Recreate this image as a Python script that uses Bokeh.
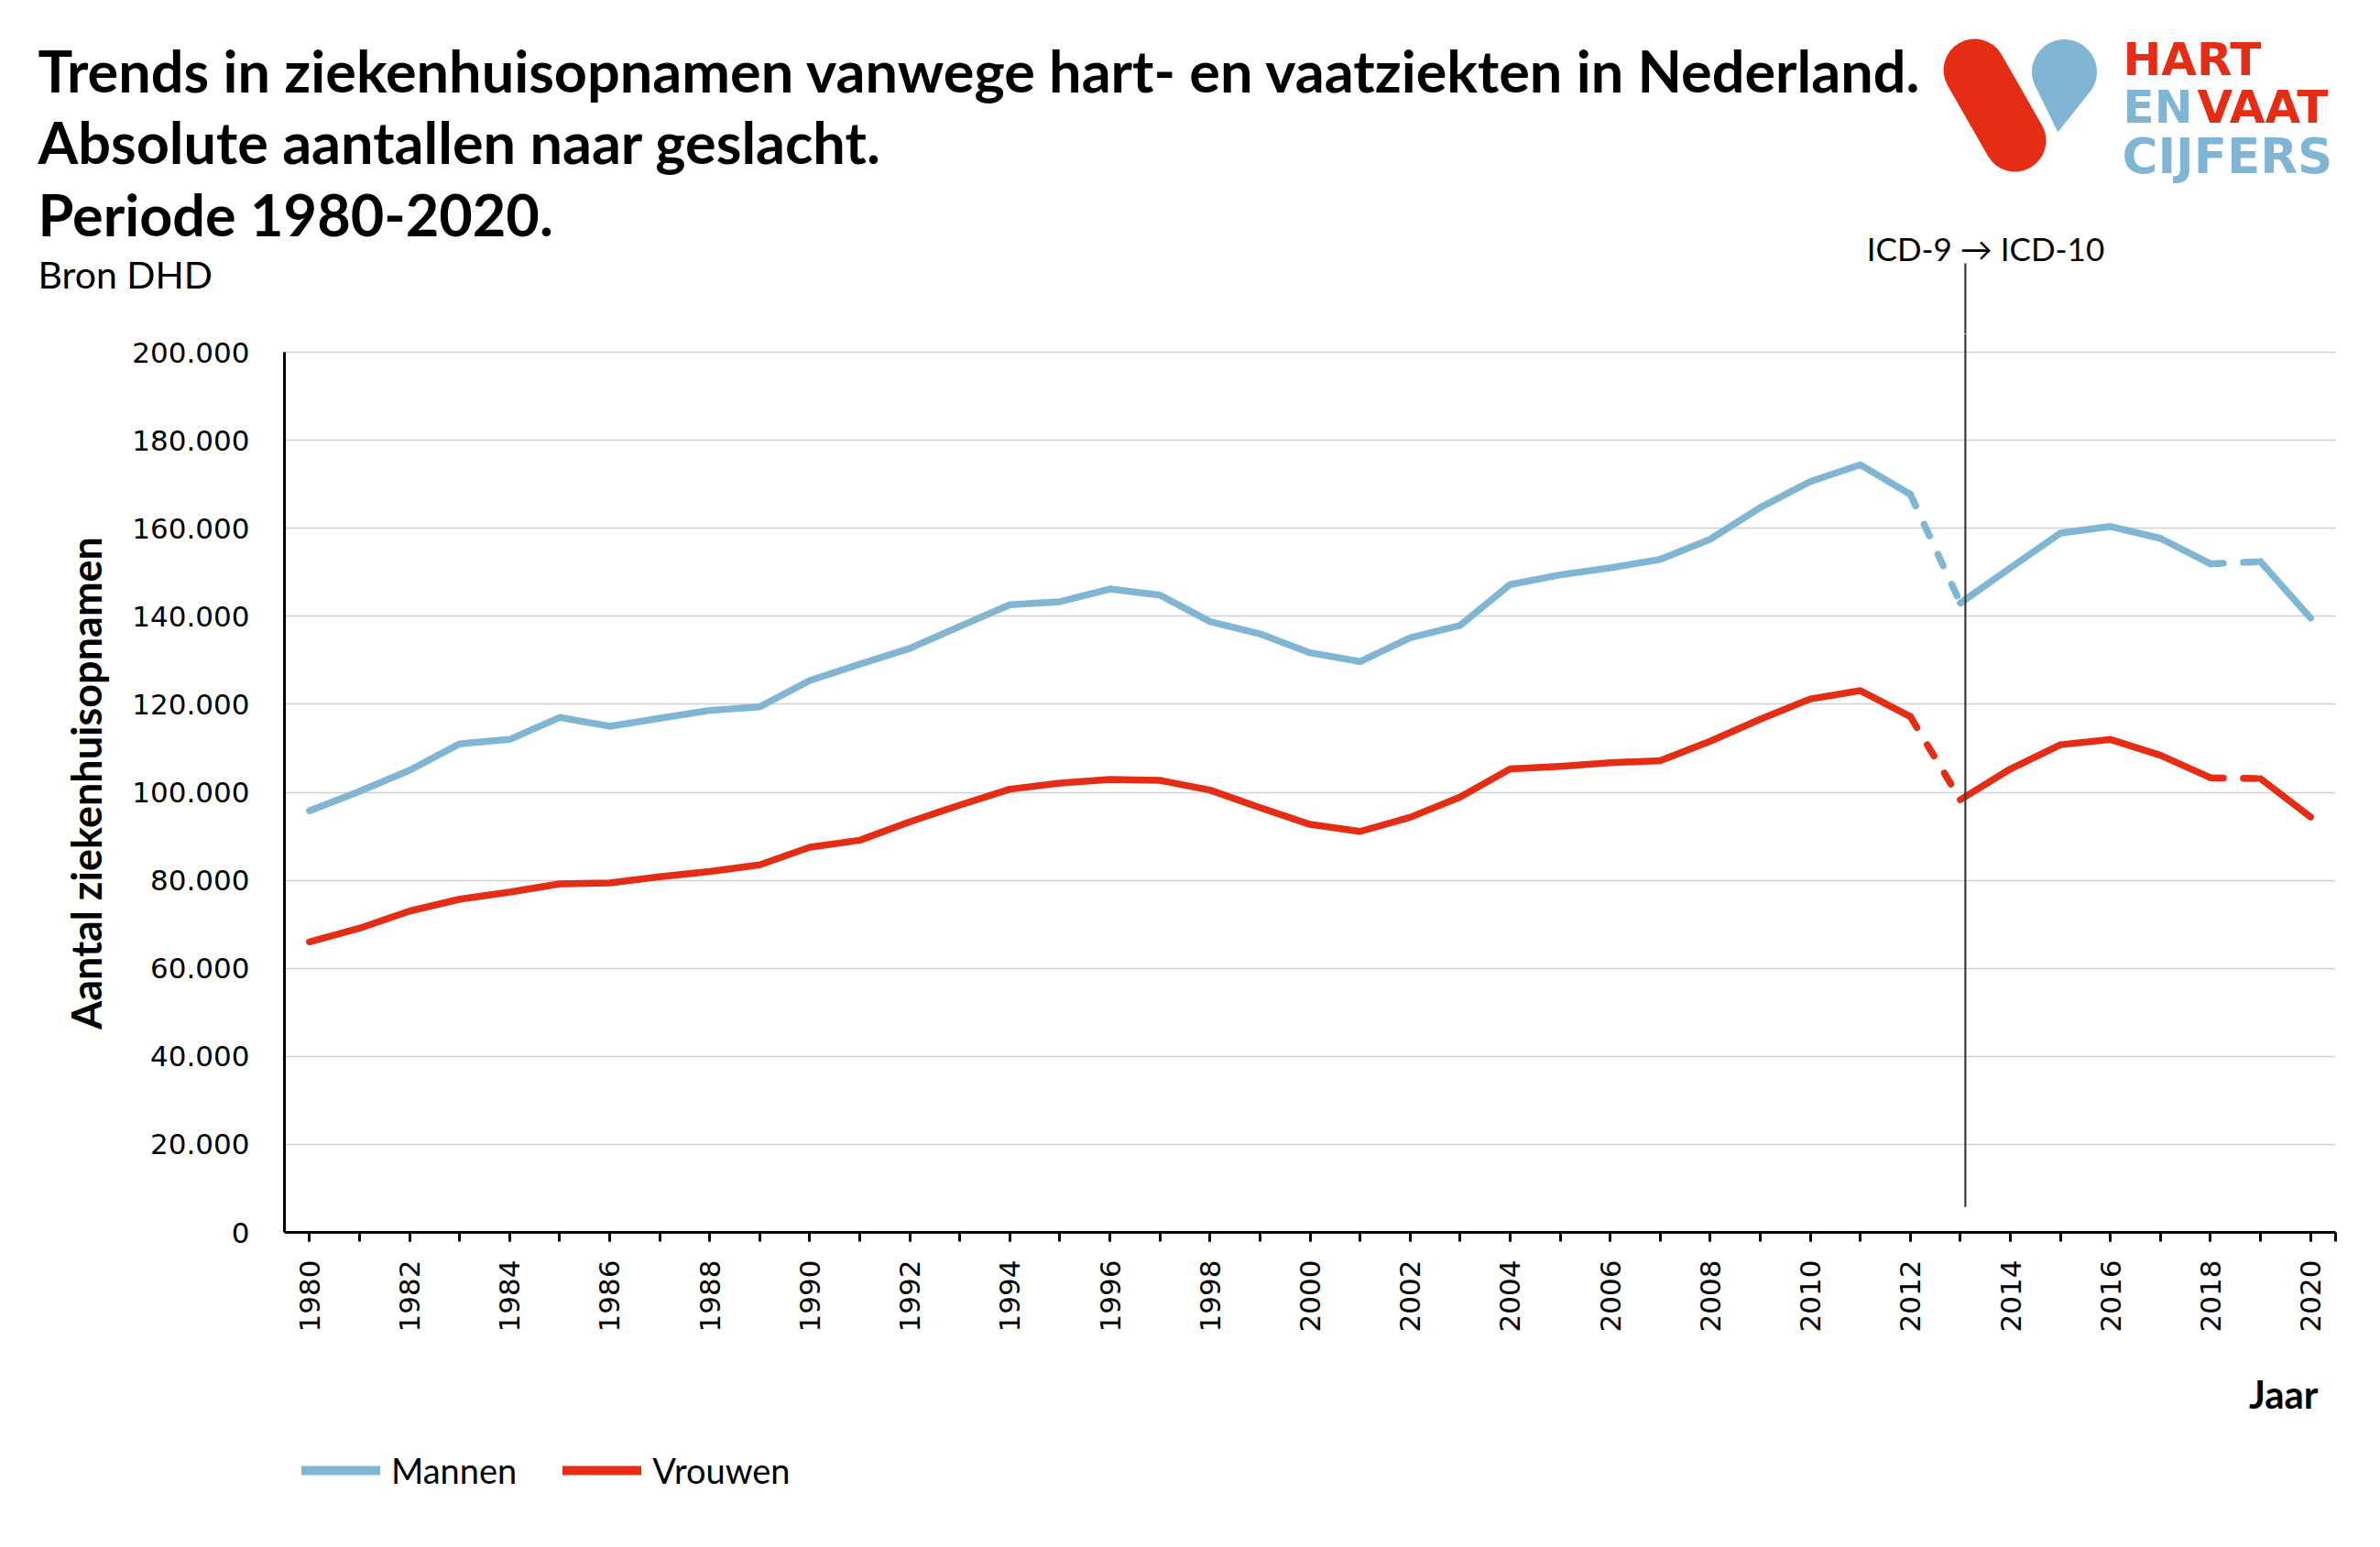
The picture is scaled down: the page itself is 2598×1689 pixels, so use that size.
import numpy as np
from math import pi
from bokeh.plotting import figure
from bokeh.layouts import column
from bokeh.models import Range1d, FixedTicker, Label, Legend, LegendItem
from bokeh.embed import file_html
from bokeh.resources import INLINE

# ---------------- data ----------------
years = list(range(1980, 2021))
mannen = [95800, 100200, 105000, 111000, 112000, 117000, 115000, 116800, 118600, 119400, 125400,
          129100, 132700, 137700, 142600, 143300, 146200, 144800, 138800, 136000, 131700,
          129700, 135100, 137900, 147200, 149400, 151000, 152900, 157500, 164700, 170600,
          174400, 167700, 143000, 151000, 158900, 160400, 157700, 151900, 152400, 139600]
vrouwen = [66000, 69100, 73000, 75700, 77300, 79200, 79400, 80800, 82000, 83500, 87500,
           89100, 93300, 97100, 100700, 102100, 102900, 102700, 100500, 96500, 92700,
           91100, 94300, 98900, 105300, 105900, 106700, 107200, 111600, 116600, 121200,
           123100, 117200, 98300, 105300, 110800, 112000, 108400, 103300, 103100, 94400]
series_names = ["Mannen", "Vrouwen"]
dashed_spans = [(2012, 2013), (2018, 2019)]
icd_year = 2013.1
x_tick_years = list(range(1980, 2021, 2))
x_tick_labels = [str(y) for y in x_tick_years]
y_ticks = list(range(0, 200001, 20000))
y_tick_labels = ["0", "20.000", "40.000", "60.000", "80.000", "100.000",
                 "120.000", "140.000", "160.000", "180.000", "200.000"]
title_lines = ["Trends in ziekenhuisopnamen vanwege hart- en vaatziekten in Nederland.",
               "Absolute aantallen naar geslacht.",
               "Periode 1980-2020."]
source_text = "Bron DHD"
y_label = "Aantal ziekenhuisopnamen"
x_label = "Jaar"
icd_text = "ICD-9 \u2192 ICD-10"

BLUE = "#80B6D4"
RED = "#E42D14"

# ---------------- layout geometry (page pixels) ----------------
PAGE_L, PAGE_T = 0, 0
W = 2590
PAGE_R = PAGE_L + W
FL, FR = 310, 2549            # main frame left/right
FT, FB = 364, 1345            # main frame top/bottom
Y200 = 384                    # page y of the 200.000 line
MAIN_BOTTOM = 1480
PAGE_BOTTOM = 1681
HEAD_H = FT - PAGE_T
MAIN_H = MAIN_BOTTOM - FT
FOOT_H = PAGE_BOTTOM - MAIN_BOTTOM

x0, x1 = years[0] - 0.5, years[-1] + 0.5
ypp = (x1 - x0) / (FR - FL)   # years per pixel
y_top = 200000 * (FB - FT) / (FB - Y200)
BASE_K = 0.33                 # baseline correction (fraction of font size)


def page_fig(h, top):
    f = figure(width=W, height=h, output_backend="svg", toolbar_location=None, title=None,
               x_range=Range1d(PAGE_L, PAGE_R), y_range=Range1d(top + h, top),
               x_axis_type=None, y_axis_type=None, min_border=0, frame_align=False)
    f.outline_line_color = None
    f.background_fill_color = "white"
    f.border_fill_color = "white"
    f.grid.visible = False
    return f


def lab(f, x, y, text, size, font="Lato", style="normal", color="black",
        align="left", angle=0):
    f.add_layout(Label(x=x, y=y - BASE_K * size, text=text, text_font=font,
                       text_font_size=f"{size}px", text_font_style=style,
                       text_color=color, text_align=align,
                       text_baseline="alphabetic", angle=angle))


# ---------------- header ----------------
head = page_fig(HEAD_H, PAGE_T)
head.extra_x_ranges = {"yr": Range1d(x0 + (PAGE_L - FL) * ypp, x0 + (PAGE_R - FL) * ypp)}
for line, base in zip(title_lines, [97, 175, 254]):
    lab(head, 41, base, line, 63, style="bold")
lab(head, 41, 313, source_text, 41)
lab(head, 2167, 282, icd_text, 35, align="center")
head.segment(x0=[icd_year], x1=[icd_year], y0=[287], y1=[FT + 2], x_range_name="yr",
             line_color="#3a3a3a", line_width=2.2)
# logo
head.line(x=[2155, 2199], y=[76, 153], line_color=RED, line_width=68, line_cap="round")
cx, cy, rr = 2253.0, 78.0, 35.0
tx, ty = 2246.0, 143.0
d = np.hypot(tx - cx, ty - cy)
phi = np.arctan2(ty - cy, tx - cx)
alpha = np.arccos(rr / d)
angs = np.linspace(phi + alpha, phi - alpha + 2 * np.pi, 80)
head.patch(x=list(cx + rr * np.cos(angs)) + [tx], y=list(cy + rr * np.sin(angs)) + [ty],
           fill_color=BLUE, line_color=BLUE, line_width=1)
lab(head, 2317, 81, "HART", 50, font="DejaVu Sans", style="bold", color=RED)
lab(head, 2317, 133, "EN", 50, font="DejaVu Sans", style="bold", color=BLUE)
lab(head, 2398, 133, "VAAT", 50, font="DejaVu Sans", style="bold", color=RED)
lab(head, 2316, 187, "CIJFERS", 53, font="DejaVu Sans", style="bold", color=BLUE)

# ---------------- main chart ----------------
p = figure(width=W, height=MAIN_H, output_backend="svg", toolbar_location=None, title=None,
           x_range=Range1d(x0, x1), y_range=Range1d(0, y_top),
           min_border_left=FL - PAGE_L, min_border_right=PAGE_R - FR, min_border_top=0,
           min_border_bottom=MAIN_BOTTOM - FB, frame_align=False)
p.outline_line_color = None
p.background_fill_color = "white"
p.border_fill_color = "white"

p.xgrid.visible = False
p.ygrid.ticker = FixedTicker(ticks=y_ticks)
p.ygrid.grid_line_color = "#d0d0d0"
p.ygrid.grid_line_width = 1.5

ya = p.yaxis[0]
ya.ticker = FixedTicker(ticks=y_ticks)
ya.bounds = (0, 200000)
ya.major_label_overrides = {v: t for v, t in zip(y_ticks, y_tick_labels)}
ya.major_tick_out = 0
ya.major_tick_in = 0
ya.minor_tick_out = 0
ya.minor_tick_in = 0
ya.axis_line_width = 3
ya.axis_line_color = "black"
ya.major_label_standoff = 38
ya.major_label_text_font = "DejaVu Sans"
ya.major_label_text_font_size = "31px"
ya.major_label_text_color = "black"
ya.axis_label = y_label
ya.axis_label_text_font = "Lato"
ya.axis_label_text_font_style = "bold"
ya.axis_label_text_font_size = "45px"
ya.axis_label_text_color = "black"
ya.axis_label_standoff = 20

xa = p.xaxis[0]
xa.ticker = FixedTicker(ticks=x_tick_years, minor_ticks=years + [x1])
xa.major_label_overrides = {v: t for v, t in zip(x_tick_years, x_tick_labels)}
xa.major_label_orientation = pi / 2
xa.axis_line_width = 3
xa.axis_line_color = "black"
xa.major_tick_out = 10
xa.major_tick_in = 0
xa.minor_tick_out = 10
xa.minor_tick_in = 0
xa.major_tick_line_width = 3
xa.minor_tick_line_width = 3
xa.major_tick_line_color = "black"
xa.minor_tick_line_color = "black"
xa.major_label_standoff = 20
xa.major_label_text_font = "DejaVu Sans"
xa.major_label_text_font_size = "31px"
xa.major_label_text_color = "black"


def split(values):
    idx = {y: i for i, y in enumerate(years)}
    sx, sy, dx, dy = [], [], [], []
    start = years[0]
    for a, b in dashed_spans:
        sx.append(years[idx[start]:idx[a] + 1]); sy.append(values[idx[start]:idx[a] + 1])
        dx.append(years[idx[a]:idx[b] + 1]); dy.append(values[idx[a]:idx[b] + 1])
        start = b
    sx.append(years[idx[start]:]); sy.append(values[idx[start]:])
    return sx, sy, dx, dy


for vals, col in zip([mannen, vrouwen], [BLUE, RED]):
    sx, sy, dx, dy = split(vals)
    p.multi_line(xs=sx, ys=sy, line_color=col, line_width=7.5,
                 line_cap="round", line_join="round")
    p.multi_line(xs=dx, ys=dy, line_color=col, line_width=7.5,
                 line_cap="round", line_join="round", line_dash="14 22")

p.segment(x0=[icd_year], x1=[icd_year], y0=[5800], y1=[y_top],
          line_color="#3a3a3a", line_width=2.2)

# ---------------- footer (x label + legend) ----------------
foot = page_fig(FOOT_H, MAIN_BOTTOM)
lab(foot, 2530, 1535, x_label, 42, style="bold", align="right")
items = []
for name, col in zip(series_names, [BLUE, RED]):
    r = foot.line(x=[np.nan, np.nan], y=[np.nan, np.nan], line_color=col, line_width=10,
                  line_cap="round")
    items.append(LegendItem(label=name, renderers=[r]))
legend = Legend(items=items, orientation="horizontal",
                location=(329 - PAGE_L, PAGE_BOTTOM - 1590 - 38),
                padding=0, margin=0, spacing=50, label_standoff=12,
                glyph_width=86, glyph_height=38, label_height=38,
                label_text_font="Lato", label_text_font_size="38px",
                label_text_color="black", border_line_color=None,
                background_fill_alpha=0)
foot.add_layout(legend, "center")

layout = column(head, p, foot, spacing=0)
open("out.html", "w").write(file_html(layout, INLINE))
